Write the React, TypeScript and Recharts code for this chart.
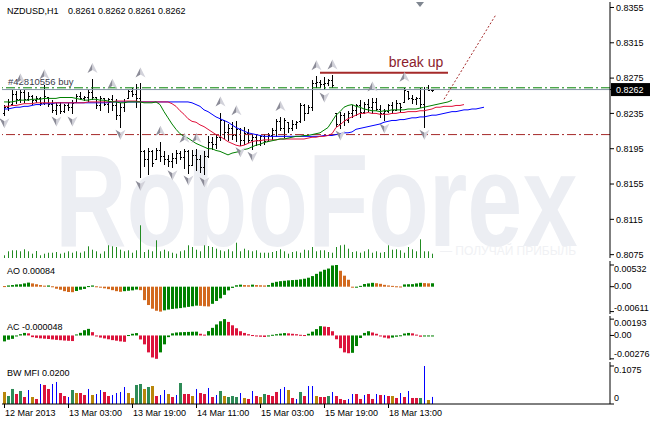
import React from 'react';
import { ComposedChart, Bar, Line, XAxis, YAxis, ReferenceLine, ReferenceArea, ReferenceDot } from 'recharts';

const FONT = '"Liberation Sans", Arial, Helvetica, sans-serif';
const SLOTS = 152;

// ---------- data ----------
const symbolName = 'NZDUSD,H1';
const lastQuote = '0.8261 0.8262 0.8261 0.8262';

const highs = [
  0.8244, 0.8251, 0.8261, 0.8260, 0.8262, 0.8261, 0.8259, 0.8256, 0.8255, 0.8254,
  0.8267, 0.8254, 0.8250, 0.8247, 0.8248, 0.8246, 0.8247, 0.8250, 0.8257, 0.8259,
  0.8255, 0.8262, 0.8274, 0.8254, 0.8255, 0.8252, 0.8253, 0.8256, 0.8251, 0.8247,
  0.8251, 0.8262, 0.8264, 0.8268, 0.8269, 0.8194, 0.8196, 0.8193, 0.8196, 0.8203,
  0.8192, 0.8188, 0.8190, 0.8194, 0.8192, 0.8195, 0.8194, 0.8193, 0.8195, 0.8188,
  0.8192, 0.8209, 0.8208, 0.8211, 0.8236, 0.8228, 0.8223, 0.8225, 0.8226, 0.8219,
  0.8220, 0.8217, 0.8212, 0.8210, 0.8211, 0.8212, 0.8213, 0.8218, 0.8229, 0.8231,
  0.8230, 0.8225, 0.8227, 0.8226, 0.8247, 0.8246, 0.8245, 0.8273, 0.8277, 0.8273,
  0.8276, 0.8274, 0.8278, 0.8236, 0.8237, 0.8236, 0.8238, 0.8244, 0.8246, 0.8250,
  0.8248, 0.8251, 0.8253, 0.8252, 0.8244, 0.8240, 0.8246, 0.8248, 0.8250, 0.8247,
  0.8264, 0.8260, 0.8256, 0.8254, 0.8264, 0.8265, 0.8267, 0.8262,
];
const lows = [
  0.8233, 0.8239, 0.8244, 0.8246, 0.8248, 0.8247, 0.8250, 0.8246, 0.8248, 0.8245,
  0.8246, 0.8244, 0.8236, 0.8235, 0.8236, 0.8237, 0.8239, 0.8235, 0.8248, 0.8251,
  0.8250, 0.8250, 0.8251, 0.8242, 0.8239, 0.8244, 0.8237, 0.8239, 0.8228, 0.8220,
  0.8237, 0.8253, 0.8255, 0.8242, 0.8162, 0.8176, 0.8166, 0.8175, 0.8183, 0.8181,
  0.8177, 0.8176, 0.8174, 0.8179, 0.8183, 0.8174, 0.8168, 0.8176, 0.8171, 0.8169,
  0.8166, 0.8185, 0.8194, 0.8196, 0.8205, 0.8208, 0.8205, 0.8206, 0.8203, 0.8200,
  0.8201, 0.8202, 0.8195, 0.8199, 0.8200, 0.8201, 0.8204, 0.8205, 0.8210, 0.8216,
  0.8209, 0.8214, 0.8216, 0.8218, 0.8226, 0.8228, 0.8236, 0.8239, 0.8264, 0.8265,
  0.8262, 0.8267, 0.8264, 0.8221, 0.8219, 0.8222, 0.8226, 0.8230, 0.8233, 0.8231,
  0.8235, 0.8237, 0.8236, 0.8238, 0.8230, 0.8227, 0.8237, 0.8236, 0.8239, 0.8237,
  0.8248, 0.8251, 0.8247, 0.8246, 0.8242, 0.8220, 0.8261, 0.8261,
];
const opens = [
  0.8235, 0.8242, 0.8246, 0.8257, 0.8251, 0.8259, 0.8251, 0.8255, 0.8250, 0.8253,
  0.8247, 0.8254, 0.8246, 0.8239, 0.8244, 0.8238, 0.8245, 0.8242, 0.8248, 0.8255,
  0.8252, 0.8254, 0.8259, 0.8254, 0.8245, 0.8252, 0.8246, 0.8251, 0.8244, 0.8233,
  0.8242, 0.8253, 0.8260, 0.8257, 0.8253, 0.8192, 0.8183, 0.8192, 0.8183, 0.8194,
  0.8187, 0.8183, 0.8181, 0.8185, 0.8190, 0.8186, 0.8192, 0.8177, 0.8188, 0.8183,
  0.8174, 0.8187, 0.8203, 0.8200, 0.8208, 0.8228, 0.8214, 0.8219, 0.8211, 0.8217,
  0.8205, 0.8213, 0.8205, 0.8208, 0.8205, 0.8209, 0.8204, 0.8211, 0.8216, 0.8226,
  0.8219, 0.8225, 0.8218, 0.8223, 0.8226, 0.8244, 0.8236, 0.8242, 0.8269, 0.8271,
  0.8268, 0.8270, 0.8273, 0.8235, 0.8223, 0.8233, 0.8228, 0.8236, 0.8239, 0.8244,
  0.8237, 0.8246, 0.8242, 0.8248, 0.8240, 0.8235, 0.8238, 0.8244, 0.8239, 0.8247,
  0.8248, 0.8260, 0.8253, 0.8251, 0.8253, 0.8246, 0.8263, 0.8261,
];
const closes = [
  0.8242, 0.8248, 0.8257, 0.8251, 0.8259, 0.8251, 0.8255, 0.8250, 0.8253, 0.8247,
  0.8255, 0.8246, 0.8239, 0.8244, 0.8238, 0.8245, 0.8242, 0.8247, 0.8255, 0.8252,
  0.8254, 0.8259, 0.8254, 0.8245, 0.8252, 0.8246, 0.8251, 0.8244, 0.8233, 0.8242,
  0.8248, 0.8260, 0.8257, 0.8253, 0.8192, 0.8183, 0.8192, 0.8179, 0.8194, 0.8187,
  0.8183, 0.8181, 0.8185, 0.8190, 0.8186, 0.8192, 0.8177, 0.8188, 0.8183, 0.8174,
  0.8187, 0.8203, 0.8200, 0.8208, 0.8228, 0.8214, 0.8219, 0.8211, 0.8217, 0.8205,
  0.8213, 0.8205, 0.8208, 0.8205, 0.8209, 0.8204, 0.8211, 0.8216, 0.8226, 0.8219,
  0.8227, 0.8218, 0.8223, 0.8225, 0.8244, 0.8235, 0.8242, 0.8269, 0.8271, 0.8268,
  0.8270, 0.8273, 0.8267, 0.8223, 0.8233, 0.8228, 0.8236, 0.8239, 0.8244, 0.8237,
  0.8246, 0.8242, 0.8248, 0.8240, 0.8235, 0.8238, 0.8244, 0.8239, 0.8247, 0.8242,
  0.8261, 0.8253, 0.8251, 0.8253, 0.8246, 0.8263, 0.8261, 0.8262,
];
const volumes = [
  270, 670, 770, 770, 670, 870, 670, 430, 700, 270,
  430, 530, 530, 600, 430, 530, 670, 530, 670, 530,
  670, 1170, 830, 670, 430, 670, 1270, 1170, 1100, 830,
  670, 770, 530, 770, 3270, 600, 830, 670, 1770, 670,
  830, 670, 530, 430, 670, 770, 1270, 1100, 830, 670,
  1270, 1200, 1100, 930, 770, 670, 870, 670, 1530, 670,
  930, 770, 670, 770, 530, 530, 530, 600, 700, 870,
  670, 430, 600, 670, 530, 830, 770, 1100, 670, 770,
  770, 600, 530, 1100, 1270, 1330, 930, 600, 670, 530,
  670, 870, 530, 670, 530, 600, 1270, 830, 870, 770,
  530, 1100, 870, 670, 1870, 670, 670, 430,
];
const jaw = [
  0.8240, 0.8240, 0.8241, 0.8242, 0.8242, 0.8243, 0.8243, 0.8244, 0.8245, 0.8245,
  0.8246, 0.8246, 0.8246, 0.8247, 0.8247, 0.8247, 0.8247, 0.8247, 0.8247, 0.8247,
  0.8247, 0.8247, 0.8247, 0.8247, 0.8247, 0.8247, 0.8247, 0.8248, 0.8248, 0.8248,
  0.8248, 0.8248, 0.8248, 0.8248, 0.8248, 0.8248, 0.8248, 0.8248, 0.8248, 0.8248,
  0.8248, 0.8248, 0.8248, 0.8248, 0.8248, 0.8248, 0.8248, 0.8247, 0.8245, 0.8243,
  0.8239, 0.8237, 0.8234, 0.8231, 0.8229, 0.8227, 0.8225, 0.8222, 0.8219, 0.8217,
  0.8215, 0.8213, 0.8212, 0.8211, 0.8210, 0.8209, 0.8209, 0.8209, 0.8209, 0.8209,
  0.8209, 0.8209, 0.8209, 0.8209, 0.8209, 0.8209, 0.8209, 0.8209, 0.8209, 0.8209,
  0.8210, 0.8210, 0.8210, 0.8211, 0.8212, 0.8213, 0.8213, 0.8214, 0.8217, 0.8218,
  0.8219, 0.8220, 0.8221, 0.8222, 0.8223, 0.8225, 0.8226, 0.8227, 0.8227, 0.8228,
  0.8228, 0.8229, 0.8230, 0.8230, 0.8231, 0.8231, 0.8232, 0.8233, 0.8233, 0.8234,
  0.8235, 0.8236, 0.8237, 0.8237, 0.8238, 0.8239, 0.8239, 0.8240, 0.8240, 0.8241,
  0.8242,
];
const teeth = [
  0.8243, 0.8243, 0.8244, 0.8244, 0.8245, 0.8246, 0.8246, 0.8246, 0.8247, 0.8247,
  0.8247, 0.8247, 0.8247, 0.8247, 0.8247, 0.8247, 0.8247, 0.8247, 0.8247, 0.8247,
  0.8247, 0.8248, 0.8248, 0.8248, 0.8248, 0.8248, 0.8248, 0.8248, 0.8249, 0.8249,
  0.8249, 0.8249, 0.8249, 0.8249, 0.8248, 0.8248, 0.8248, 0.8248, 0.8248, 0.8248,
  0.8248, 0.8248, 0.8246, 0.8243, 0.8238, 0.8234, 0.8229, 0.8226, 0.8225, 0.8222,
  0.8220, 0.8217, 0.8214, 0.8211, 0.8209, 0.8206, 0.8203, 0.8201, 0.8199, 0.8198,
  0.8199, 0.8201, 0.8203, 0.8204, 0.8204, 0.8205, 0.8205, 0.8205, 0.8205, 0.8206,
  0.8206, 0.8206, 0.8206, 0.8206, 0.8206, 0.8206, 0.8207, 0.8208, 0.8208, 0.8209,
  0.8209, 0.8210, 0.8212, 0.8219, 0.8222, 0.8226, 0.8229, 0.8231, 0.8233, 0.8235,
  0.8235, 0.8236, 0.8235, 0.8235, 0.8234, 0.8234, 0.8234, 0.8235, 0.8235, 0.8236,
  0.8236, 0.8237, 0.8237, 0.8237, 0.8238, 0.8238, 0.8239, 0.8240, 0.8242, 0.8242,
  0.8243, 0.8243, 0.8243, 0.8244, 0.8244, 0.8245,
];
const lips = [
  0.8248, 0.8248, 0.8248, 0.8249, 0.8250, 0.8250, 0.8250, 0.8251, 0.8251, 0.8251,
  0.8252, 0.8252, 0.8252, 0.8252, 0.8253, 0.8253, 0.8253, 0.8253, 0.8252, 0.8251,
  0.8250, 0.8250, 0.8251, 0.8251, 0.8250, 0.8250, 0.8249, 0.8248, 0.8248, 0.8247,
  0.8247, 0.8248, 0.8248, 0.8248, 0.8248, 0.8247, 0.8247, 0.8247, 0.8248, 0.8245,
  0.8237, 0.8230, 0.8223, 0.8217, 0.8212, 0.8209, 0.8207, 0.8204, 0.8201, 0.8199,
  0.8197, 0.8195, 0.8195, 0.8193, 0.8192, 0.8190, 0.8188, 0.8190, 0.8191, 0.8192,
  0.8194, 0.8195, 0.8197, 0.8199, 0.8200, 0.8202, 0.8203, 0.8204, 0.8205, 0.8206,
  0.8206, 0.8207, 0.8208, 0.8209, 0.8209, 0.8210, 0.8210, 0.8211, 0.8212, 0.8213,
  0.8216, 0.8219, 0.8226, 0.8233, 0.8237, 0.8242, 0.8244, 0.8245, 0.8243, 0.8242,
  0.8240, 0.8239, 0.8238, 0.8238, 0.8237, 0.8238, 0.8238, 0.8239, 0.8239, 0.8239,
  0.8239, 0.8240, 0.8240, 0.8240, 0.8241, 0.8242, 0.8243, 0.8244, 0.8245, 0.8246,
  0.8247, 0.8248, 0.8250,
];
const upFractals = [4, 10, 22, 27, 34, 39, 45, 48, 54, 58, 69, 78, 82, 92, 100];
const downFractals = [0, 13, 17, 29, 34, 42, 46, 50, 59, 62, 80, 84, 95, 105];

const priceTicks = [0.8075, 0.8115, 0.8155, 0.8195, 0.8235, 0.8275, 0.8315, 0.8355];
const bidPrice = 0.8262;
const buyLevel = 0.8264;
const buyLabel = '#42810556 buy';
const stopLevel = 0.8211;
const breakLevel = 0.8281;
const breakFrom = 79;
const breakTo = 111;
const breakText = 'break up';
const breakTextAt = { i: 103, price: 0.8293 };
const forecastIdx = [110, 123];
const forecastVal = [0.8251, 0.8347];
const watermark = 'RoboForex';
const watermarkSub = '— ПОЛУЧАЙ ПРИБЫЛЬ';

const ao = [
  0.00015, 0.0003, 0.0004, 0.00055, 0.0006, 0.0008, 0.001, 0.0008, 0.0006, 0.0004,
  0.00025, 0.0003, 0.0001, -0.0005, -0.00075, -0.0011, -0.0013, -0.00135, -0.00105, -0.00075,
  -0.00055, 0.00015, 0.0003, 0.0001, -0.00015, -0.0004, -0.0006, -0.00085, -0.0011, -0.00125,
  -0.0011, -0.001, -0.0009, -0.0007, -0.00085, -0.0033, -0.0045, -0.0054, -0.0059, -0.00611,
  -0.0058, -0.0056, -0.00545, -0.00535, -0.00525, -0.0051, -0.00495, -0.0048, -0.00465, -0.0047,
  -0.0048, -0.00485, -0.0042, -0.0035, -0.00285, -0.002, -0.0009, -0.0003, 0.00035, 0.0005,
  0.0004, 0.00035, 0.0005, 0.0004, 0.00035, 0.0003, 0.00038, 0.00095, 0.0012, 0.00135,
  0.00145, 0.00155, 0.00162, 0.00168, 0.0018, 0.00195, 0.0022, 0.0026, 0.00315, 0.0037,
  0.00415, 0.00445, 0.0052, 0.00532, 0.0039, 0.0027, 0.0017, -0.0001, -0.00005, 0.0002,
  0.00065, 0.0008, 0.00095, 0.00085, 0.0007, 0.00045, 0.0003, 0.0002, 0.0001, 0.00005,
  0.00055, 0.0006, 0.00062, 0.0008, 0.00095, 0.00088, 0.00082, 0.00084,
];
const ac = [
  -0.0007, -0.0005, -0.0004, -0.0001, 0.00015, 0.0003, 0.00025, -0.0002, -0.00028, -0.00034,
  -0.00038, -0.00042, -0.00047, -0.00052, -0.00056, -0.0006, -0.00063, -0.00066, 0.00012, 0.00031,
  0.00062, 0.00078, 0.00039, -0.0001, -0.00025, -0.00035, -0.00045, -0.00055, -0.00062, -0.0007,
  -0.00075, 0.00005, 0.0002, 0.00028, -0.00047, -0.00105, -0.002, -0.0026, -0.00276, -0.002,
  -0.00105, -0.0002, 0.00025, 0.00035, 0.00038, 0.0004, 0.00042, 0.00044, 0.00045, 0.0002,
  0.0001, 0.00051, 0.0009, 0.0013, 0.00168, 0.00193, 0.0016, 0.0012, 0.00085, 0.0005,
  0.0003, 0.00015, 0.00005, -0.0001, -0.00015, -0.00018, -0.00008, 0.00008, 0.00015, 0.00022,
  0.00028, 0.00025, 0.0002, 0.00015, 0.00008, 0.00005, 0.0002, 0.00045, 0.00075, 0.0011,
  0.00105, 0.001, 0.0005, -0.00045, -0.0015, -0.002, -0.0021, -0.00205, -0.00125, -0.0003,
  0.0003, 0.0005, 0.00035, 0.0002, -0.00005, -0.00025, -0.00035, -0.00025, -0.00015, 0.00002,
  0.00023, 0.0003, 0.00025, 0.0001, -0.00015, -0.00012, -0.00008, -0.000048,
];
const mfi = [
  0.0340, 0.0226, 0.0425, 0.0283, 0.0368, 0.0198, 0.0396, 0.0198, 0.0142, 0.0566,
  0.0538, 0.0425, 0.0566, 0.0623, 0.0311, 0.0226, 0.0198, 0.0396, 0.0311, 0.0311,
  0.0255, 0.0425, 0.0255, 0.0283, 0.0396, 0.0340, 0.0226, 0.0255, 0.0311, 0.0340,
  0.0481, 0.0311, 0.0170, 0.0538, 0.0566, 0.0425, 0.0481, 0.0509, 0.0226, 0.0255,
  0.0396, 0.0283, 0.0198, 0.0255, 0.0594, 0.0283, 0.0283, 0.0226, 0.0425, 0.0311,
  0.0283, 0.0453, 0.0198, 0.0255, 0.0368, 0.0226, 0.0198, 0.0226, 0.0198, 0.0311,
  0.0170, 0.0142, 0.0368, 0.0226, 0.0198, 0.0283, 0.0255, 0.0226, 0.0340, 0.0425,
  0.0481, 0.0396, 0.0170, 0.0142, 0.0340, 0.0226, 0.0509, 0.0509, 0.0226, 0.0198,
  0.0198, 0.0226, 0.0340, 0.0226, 0.0142, 0.0113, 0.0142, 0.0283, 0.0283, 0.0142,
  0.0255, 0.0283, 0.0142, 0.0283, 0.0255, 0.0255, 0.0226, 0.0226, 0.0170, 0.0311,
  0.0198, 0.0368, 0.0170, 0.0170, 0.0170, 0.1075, 0.0113, 0.0200,
];
// G = green (MFI up, vol up), F = fade, K = fake, S = squat
const mfiState = [
  'F', 'G', 'G', 'S', 'G', 'S', 'K', 'F', 'S', 'K',
  'S', 'S', 'K', 'K', 'S', 'S', 'K', 'G', 'F', 'S',
  'S', 'K', 'F', 'K', 'K', 'S', 'S', 'K', 'K', 'K',
  'K', 'F', 'F', 'G', 'G', 'F', 'G', 'F', 'S', 'K',
  'K', 'F', 'S', 'K', 'G', 'S', 'S', 'F', 'K', 'S',
  'S', 'K', 'S', 'K', 'G', 'F', 'G', 'G', 'G', 'K',
  'F', 'S', 'K', 'S', 'F', 'G', 'S', 'S', 'S', 'K',
  'K', 'F', 'S', 'K', 'G', 'S', 'K', 'K', 'F', 'S',
  'S', 'G', 'K', 'S', 'S', 'S', 'K', 'K', 'S', 'S',
  'K', 'S', 'S', 'K', 'S', 'K', 'S', 'F', 'S', 'K',
  'S', 'K', 'S', 'S', 'G', 'K', 'F', 'K',
];

const aoTicks = [-0.00611, 0, 0.00532];
const aoTickLabels = ['-0.00611', '0.00', '0.00532'];
const acTicks = [-0.00276, 0, 0.00193];
const acTickLabels = ['-0.00276', '0.00', '0.00193'];
const mfiTicks = [0, 0.1075];
const mfiTickLabels = ['0', '0.1075'];

const timeTickIdx = [0, 16, 32, 48, 64, 80, 96];
const timeTickLabels = ['12 Mar 2013', '13 Mar 03:00', '13 Mar 19:00', '14 Mar 11:00', '15 Mar 03:00', '15 Mar 19:00', '18 Mar 13:00'];

// ---------- styles ----------
const C = {
  vol: '#228B22',
  jaw: '#0000FF',
  teeth: '#E0103A',
  lips: '#008000',
  buy: '#008000',
  stop: '#A52A2A',
  bid: '#8494A6',
  brk: '#A52A2A',
  brkText: '#8B1C2C',
  aoUp: '#008000',
  aoDn: '#D2691E',
  acUp: '#008000',
  acDn: '#DC143C',
  G: '#2E8B57',
  F: '#B8860B',
  K: '#0000FF',
  S: '#DC143C',
  wm: '#ECEEF3',
};

// ---------- table ----------
const rows = Array.from({ length: SLOTS }, (_, i) => {
  const has = i < highs.length;
  const fi = forecastIdx.indexOf(i);
  return {
    i,
    range: has ? [lows[i], highs[i]] : null,
    o: has ? opens[i] : null,
    h: has ? highs[i] : null,
    l: has ? lows[i] : null,
    c: has ? closes[i] : null,
    vol: i < volumes.length ? volumes[i] : null,
    jaw: i < jaw.length ? jaw[i] : null,
    teeth: i < teeth.length ? teeth[i] : null,
    lips: i < lips.length ? lips[i] : null,
    up: upFractals.includes(i) ? highs[i] : null,
    dn: downFractals.includes(i) ? lows[i] : null,
    fc: fi >= 0 ? forecastVal[fi] : null,
    ao: i < ao.length ? ao[i] : null,
    aoRise: i > 0 && i < ao.length ? ao[i] >= ao[i - 1] : false,
    ac: i < ac.length ? ac[i] : null,
    acRise: i === 0 ? true : i < ac.length ? ac[i] > ac[i - 1] : false,
    mfi: i < mfi.length ? mfi[i] : null,
    st: i < mfiState.length ? mfiState[i] : null,
  };
});

const PMIN = 0.80712;
const PMAX = 0.83612;

// ---------- shapes ----------
const OhlcBar = (p: any) => {
  const d = p.payload;
  if (!d || d.h == null || p.x == null || !Number.isFinite(p.y)) return <g />;
  const top = Math.min(p.y, p.y + p.height);
  const hgt = Math.abs(p.height);
  const cx = Math.floor(p.x + p.width / 2);
  const span = d.h - d.l;
  const yOf = (v: number) => Math.round(span > 0 ? top + ((d.h - v) / span) * hgt : top);
  return (
    <g fill="#000">
      <rect x={cx} y={Math.round(top)} width={1} height={Math.max(1, Math.round(hgt) + 1)} />
      <rect x={cx - 1} y={yOf(d.o)} width={1} height={1} />
      <rect x={cx + 1} y={yOf(d.c)} width={1} height={1} />
    </g>
  );
};

const VolBar = (p: any) => {
  if (!p.payload || p.payload.vol == null || !Number.isFinite(p.y)) return <g />;
  const top = Math.min(p.y, p.y + p.height);
  return <rect x={Math.floor(p.x + p.width / 2)} y={top} width={1} height={Math.abs(p.height)} fill={C.vol} />;
};

const makeHist = (key: string, color: (d: any) => string) => (p: any) => {
  if (!p.payload || p.payload[key] == null || !Number.isFinite(p.y)) return <g />;
  const top = Math.min(p.y, p.y + p.height);
  const h = Math.max(1, Math.abs(p.height));
  return <rect x={Math.floor(p.x + p.width / 2) - 1} y={top} width={3} height={h} fill={color(p.payload)} />;
};
const AoShape = makeHist('ao', (d) => (d.aoRise ? C.aoUp : C.aoDn));
const AcShape = makeHist('ac', (d) => (d.acRise ? C.acUp : C.acDn));

const MfiShape = (p: any) => {
  const d = p.payload;
  if (!d || d.mfi == null || !Number.isFinite(p.y)) return <g />;
  const top = Math.min(p.y, p.y + p.height);
  const h = Math.max(1, Math.abs(p.height));
  const cx = Math.floor(p.x + p.width / 2);
  const thin = d.st === 'K';
  return <rect x={thin ? cx : cx - 1} y={top} width={thin ? 1 : 3} height={h} fill={(C as any)[d.st]} />;
};

const UpFractal = (p: any) => {
  if (p.cx == null || !Number.isFinite(p.cy) || p.value == null) return <g key={p.index} />;
  const cx = Math.round(p.cx) + 0.5;
  const t = p.cy - 16;
  const b = p.cy - 6;
  return (
    <g key={p.index}>
      <polygon points={`${cx},${t} ${cx - 5},${b} ${cx},${b - 3}`} fill="#8c8c98" />
      <polygon points={`${cx},${t} ${cx},${b - 3} ${cx + 5},${b}`} fill="#d2d2da" />
    </g>
  );
};
const DownFractal = (p: any) => {
  if (p.cx == null || !Number.isFinite(p.cy) || p.value == null) return <g key={p.index} />;
  const cx = Math.round(p.cx) + 0.5;
  const t = p.cy + 3;
  const b = p.cy + 13;
  return (
    <g key={p.index}>
      <polygon points={`${cx},${b} ${cx - 5},${t} ${cx},${t + 3}`} fill="#8c8c98" />
      <polygon points={`${cx},${b} ${cx},${t + 3} ${cx + 5},${t}`} fill="#d2d2da" />
    </g>
  );
};

// ---------- ticks ----------
const PriceTick = (p: any) => {
  const v = p.payload.value;
  const label = Number(v).toFixed(4);
  if (Math.abs(v - bidPrice) < 1e-9) {
    return (
      <g>
        <rect x={p.x - 5} y={p.y - 6.5} width={40} height={13} fill="#000" />
        <text x={p.x} y={p.y} dy={3.3} fill="#fff" fontSize={9} fontFamily={FONT}>{label}</text>
      </g>
    );
  }
  return <text x={p.x} y={p.y} dy={3.3} fill="#000" fontSize={9} fontFamily={FONT}>{label}</text>;
};

const makeSubTick = (ticks: number[], labels: string[], nudges: number[]) => (p: any) => {
  const k = ticks.findIndex((t) => Math.abs(t - p.payload.value) < 1e-12);
  if (k < 0) return <g />;
  return (
    <text x={p.x} y={p.y + nudges[k]} dy={3.3} fill="#000" fontSize={9} fontFamily={FONT}>{labels[k]}</text>
  );
};
const AoTick = makeSubTick(aoTicks, aoTickLabels, [-4, -1, 4]);
const AcTick = makeSubTick(acTicks, acTickLabels, [-5, -1, 4]);
const MfiTick = makeSubTick(mfiTicks, mfiTickLabels, [-6, 4]);

const TimeTick = (p: any) => {
  const k = timeTickIdx.indexOf(p.payload.value);
  if (k < 0) return <g />;
  const x = Math.floor(p.x) + 0.5;
  return (
    <g>
      <line x1={x} x2={x} y1={p.y} y2={p.y + 4} stroke="#000" />
      <text x={p.x + 1} y={p.y + 12.3} fontSize={9} fontFamily={FONT} fill="#000">{timeTickLabels[k]}</text>
    </g>
  );
};

const BuyLabel = (lp: any) => {
  const vb = lp.viewBox || {};
  return (
    <text x={(vb.x ?? 2) + 6} y={(vb.y ?? 88) - 3} fontSize={9.5} fontFamily={FONT} fill="#3a3a4a">{buyLabel}</text>
  );
};

const ShiftMark = (p: any) => (
  <polygon points={`${p.cx - 4},${p.cy} ${p.cx + 4},${p.cy} ${p.cx},${p.cy + 5}`} fill="#7f8690" />
);

const border = { fill: 'none', stroke: '#000', strokeWidth: 1 };
const titleStyle = { fontSize: 9, fontFamily: FONT, fill: '#000' } as const;

export default function App() {
  return (
    <div style={{ position: 'absolute', left: 0, top: 0, width: 650, height: 422, background: '#fff', overflow: 'hidden' }}>
      <svg width={650} height={290} style={{ position: 'absolute', left: 0, top: 0 }}>
        <text transform="translate(55,246) scale(0.75,1)" fontSize={132} fontWeight="bold" fontFamily={FONT} fill={C.wm}>{watermark}</text>
        <text x={440} y={255} fontSize={12} fontFamily={FONT} fill="#f0f1f4">{watermarkSub}</text>
      </svg>

      <div style={{ position: 'absolute', left: 0, top: 0 }}>
        <ComposedChart width={650} height={260} data={rows} margin={{ top: 2, right: 0, bottom: 2, left: 2 }} barGap={0} barCategoryGap={0}>
          <XAxis xAxisId="x" dataKey="i" hide />
          <XAxis xAxisId="xv" dataKey="i" hide />
          <YAxis
            yAxisId="p"
            orientation="right"
            width={40}
            domain={[PMIN, PMAX]}
            allowDataOverflow
            ticks={[...priceTicks, bidPrice]}
            interval={0}
            tick={PriceTick}
            tickSize={4}
            tickLine={{ stroke: '#000' }}
            axisLine={{ stroke: '#000' }}
          />
          <YAxis yAxisId="v" hide domain={[0, 25600]} />
          <Bar xAxisId="xv" yAxisId="v" dataKey="vol" barSize={1} shape={VolBar} isAnimationActive={false} />
          <ReferenceLine xAxisId="x" yAxisId="p" y={stopLevel} stroke={C.stop} strokeDasharray="9 3 2 3" />
          <ReferenceLine xAxisId="x" yAxisId="p" y={bidPrice} stroke={C.bid} />
          <ReferenceLine xAxisId="x" yAxisId="p" y={buyLevel} stroke={C.buy} strokeDasharray="9 3 2 3" label={{ content: BuyLabel }} />
          <Line xAxisId="x" yAxisId="p" dataKey="jaw" stroke={C.jaw} strokeWidth={1} dot={false} activeDot={false} isAnimationActive={false} />
          <Line xAxisId="x" yAxisId="p" dataKey="teeth" stroke={C.teeth} strokeWidth={1} dot={false} activeDot={false} isAnimationActive={false} />
          <Line xAxisId="x" yAxisId="p" dataKey="lips" stroke={C.lips} strokeWidth={1} dot={false} activeDot={false} isAnimationActive={false} />
          <Bar xAxisId="x" yAxisId="p" dataKey="range" barSize={3} shape={OhlcBar} isAnimationActive={false} />
          <Line xAxisId="x" yAxisId="p" dataKey="up" stroke="none" dot={UpFractal} activeDot={false} isAnimationActive={false} />
          <Line xAxisId="x" yAxisId="p" dataKey="dn" stroke="none" dot={DownFractal} activeDot={false} isAnimationActive={false} />
          <Line xAxisId="x" yAxisId="p" dataKey="fc" connectNulls stroke={C.brk} strokeDasharray="2 2" dot={false} activeDot={false} isAnimationActive={false} />
          <ReferenceLine
            xAxisId="x"
            yAxisId="p"
            segment={[{ x: breakFrom, y: breakLevel }, { x: breakTo, y: breakLevel }]}
            stroke={C.brk}
            strokeWidth={2}
          />
          <ReferenceDot
            xAxisId="x"
            yAxisId="p"
            x={breakTextAt.i}
            y={breakTextAt.price}
            r={1}
            fill="none"
            stroke="none"
            label={{ value: breakText, position: 'center', fill: C.brkText, fontSize: 14, fontFamily: FONT }}
          />
          <ReferenceDot xAxisId="x" yAxisId="p" x={104} y={PMAX} r={4} ifOverflow="visible" shape={ShiftMark} />
          <ReferenceArea xAxisId="x" yAxisId="p" ifOverflow="visible" {...border} />
          <text x={7} y={14} {...titleStyle}>{symbolName}</text>
          <text x={68} y={14} {...titleStyle}>{lastQuote}</text>
        </ComposedChart>
      </div>

      <div style={{ position: 'absolute', left: 0, top: 259 }}>
        <ComposedChart width={650} height={57} data={rows} margin={{ top: 2, right: 0, bottom: 2, left: 2 }} barGap={0} barCategoryGap={0}>
          <XAxis dataKey="i" hide />
          <YAxis
            orientation="right"
            width={40}
            domain={[-0.0067, 0.0063]}
            allowDataOverflow
            ticks={aoTicks}
            interval={0}
            tick={AoTick}
            tickSize={4}
            tickMargin={0}
            tickLine={{ stroke: '#000' }}
            axisLine={{ stroke: '#000' }}
          />
          <Bar dataKey="ao" barSize={3} shape={AoShape} isAnimationActive={false} />
          <ReferenceArea ifOverflow="visible" {...border} />
          <text x={7} y={15} {...titleStyle}>AO 0.00084</text>
        </ComposedChart>
      </div>

      <div style={{ position: 'absolute', left: 0, top: 314 }}>
        <ComposedChart width={650} height={48} data={rows} margin={{ top: 2, right: 0, bottom: 2, left: 2 }} barGap={0} barCategoryGap={0}>
          <XAxis dataKey="i" hide />
          <YAxis
            orientation="right"
            width={40}
            domain={[-0.0029, 0.0023]}
            allowDataOverflow
            ticks={acTicks}
            interval={0}
            tick={AcTick}
            tickSize={4}
            tickMargin={0}
            tickLine={{ stroke: '#000' }}
            axisLine={{ stroke: '#000' }}
          />
          <Bar dataKey="ac" barSize={3} shape={AcShape} isAnimationActive={false} />
          <ReferenceArea ifOverflow="visible" {...border} />
          <text x={7} y={16} {...titleStyle}>AC -0.000048</text>
        </ComposedChart>
      </div>

      <div style={{ position: 'absolute', left: 0, top: 360 }}>
        <ComposedChart width={650} height={62} data={rows} margin={{ top: 2, right: 0, bottom: 0, left: 2 }} barGap={0} barCategoryGap={0}>
          <XAxis
            dataKey="i"
            height={18}
            ticks={timeTickIdx}
            interval={0}
            tick={TimeTick}
            tickLine={false}
            tickSize={0}
            tickMargin={0}
            axisLine={{ stroke: '#000' }}
          />
          <YAxis
            orientation="right"
            width={40}
            domain={[0, 0.1188]}
            allowDataOverflow
            ticks={mfiTicks}
            interval={0}
            tick={MfiTick}
            tickSize={4}
            tickMargin={0}
            tickLine={{ stroke: '#000' }}
            axisLine={{ stroke: '#000' }}
          />
          <Bar dataKey="mfi" barSize={3} shape={MfiShape} isAnimationActive={false} />
          <ReferenceArea ifOverflow="visible" {...border} />
          <text x={7} y={15.6} {...titleStyle}>BW MFI 0.0200</text>
        </ComposedChart>
      </div>
    </div>
  );
}
